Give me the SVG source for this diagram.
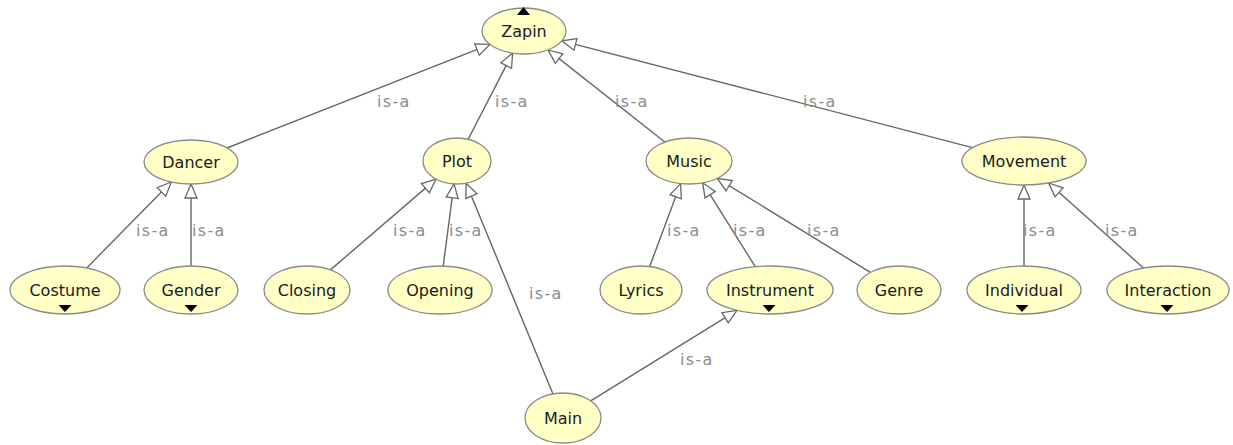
<svg xmlns="http://www.w3.org/2000/svg" width="1233" height="445" viewBox="0 0 1233 445">
<style>
.n ellipse{fill:#ffffc6;stroke:#8a8a8a;stroke-width:1.3}
.n text{font-family:"DejaVu Sans",sans-serif;font-size:16px;fill:#1a1a1a;text-anchor:middle}
.tri{fill:#000}
#edges line{stroke:#666;stroke-width:1.4;marker-end:url(#ah)}
.lbl{font-family:"DejaVu Sans",sans-serif;font-size:16px;fill:#8c8c8c;letter-spacing:1.3px}
</style>
<defs>
<marker id="ah" markerUnits="userSpaceOnUse" viewBox="-16 -8 17 16" refX="0" refY="0" markerWidth="17" markerHeight="16" orient="auto">
<path d="M0,0 L-14,-6 L-14,6 Z" fill="#fff" stroke="#666" stroke-width="1.3"/>
</marker>
</defs>
<rect width="1233" height="445" fill="#fff"/>
<g id="edges">
<line x1="227" y1="148" x2="490" y2="44.4"/>
<line x1="468.2" y1="139.3" x2="512.6" y2="53.1"/>
<line x1="664.8" y1="142" x2="548" y2="49.9"/>
<line x1="972.5" y1="147.6" x2="561.9" y2="40.9"/>
<line x1="86.7" y1="267.9" x2="171.3" y2="182"/>
<line x1="191" y1="266" x2="191" y2="184"/>
<line x1="330.4" y1="269.9" x2="436" y2="179.1"/>
<line x1="443.2" y1="266" x2="454" y2="183.9"/>
<line x1="553" y1="393.9" x2="466.1" y2="183.2"/>
<line x1="649.7" y1="266.5" x2="680.6" y2="183.6"/>
<line x1="755.3" y1="266.7" x2="702.7" y2="182.8"/>
<line x1="870.4" y1="272.4" x2="717.2" y2="178.3"/>
<line x1="1024" y1="266" x2="1024" y2="185"/>
<line x1="1143.5" y1="268" x2="1048.6" y2="183"/>
<line x1="590.7" y1="400.9" x2="737" y2="310.4"/>
<text class="lbl" x="377" y="107">is-a</text>
<text class="lbl" x="495" y="107">is-a</text>
<text class="lbl" x="615" y="107">is-a</text>
<text class="lbl" x="803" y="107">is-a</text>
<text class="lbl" x="136" y="236">is-a</text>
<text class="lbl" x="192" y="236">is-a</text>
<text class="lbl" x="393" y="236">is-a</text>
<text class="lbl" x="449" y="236">is-a</text>
<text class="lbl" x="529" y="299">is-a</text>
<text class="lbl" x="667" y="236">is-a</text>
<text class="lbl" x="733" y="236">is-a</text>
<text class="lbl" x="807" y="236">is-a</text>
<text class="lbl" x="1023" y="236">is-a</text>
<text class="lbl" x="1105" y="236">is-a</text>
<text class="lbl" x="680" y="365">is-a</text>
</g>
<g id="zapin" class="n"><ellipse cx="524" cy="31" rx="42" ry="23"/><text x="524" y="37">Zapin</text><path class="tri" d="M517,15 L530,15 L523.5,7 Z"/></g>
<g id="dancer" class="n"><ellipse cx="191" cy="162" rx="47" ry="22"/><text x="191" y="168">Dancer</text></g>
<g id="plot" class="n"><ellipse cx="457" cy="161" rx="34" ry="23"/><text x="457" y="167">Plot</text></g>
<g id="music" class="n"><ellipse cx="689" cy="161" rx="43" ry="23"/><text x="689" y="167">Music</text></g>
<g id="movement" class="n"><ellipse cx="1024" cy="161" rx="62" ry="24"/><text x="1024" y="167">Movement</text></g>
<g id="costume" class="n"><ellipse cx="65" cy="290" rx="55" ry="24"/><text x="65" y="296">Costume</text><path class="tri" d="M58.5,305 L71.5,305 L65,312 Z"/></g>
<g id="gender" class="n"><ellipse cx="191" cy="290" rx="47" ry="24"/><text x="191" y="296">Gender</text><path class="tri" d="M184.5,305 L197.5,305 L191,312 Z"/></g>
<g id="closing" class="n"><ellipse cx="307" cy="290" rx="43" ry="24"/><text x="307" y="296">Closing</text></g>
<g id="opening" class="n"><ellipse cx="440" cy="290" rx="52" ry="24"/><text x="440" y="296">Opening</text></g>
<g id="lyrics" class="n"><ellipse cx="641" cy="290" rx="41" ry="24"/><text x="641" y="296">Lyrics</text></g>
<g id="instrument" class="n"><ellipse cx="770" cy="290" rx="63" ry="24"/><text x="770" y="296">Instrument</text><path class="tri" d="M762.5,305 L775.5,305 L769,312 Z"/></g>
<g id="genre" class="n"><ellipse cx="899" cy="290" rx="42" ry="24"/><text x="899" y="296">Genre</text></g>
<g id="individual" class="n"><ellipse cx="1024" cy="290" rx="57" ry="24"/><text x="1024" y="296">Individual</text><path class="tri" d="M1015.5,305 L1028.5,305 L1022,312 Z"/></g>
<g id="interaction" class="n"><ellipse cx="1168" cy="290" rx="61" ry="24"/><text x="1168" y="296">Interaction</text><path class="tri" d="M1160.5,305 L1173.5,305 L1167,312 Z"/></g>
<g id="main" class="n"><ellipse cx="563" cy="418" rx="38" ry="25"/><text x="563" y="424">Main</text></g>
</svg>
